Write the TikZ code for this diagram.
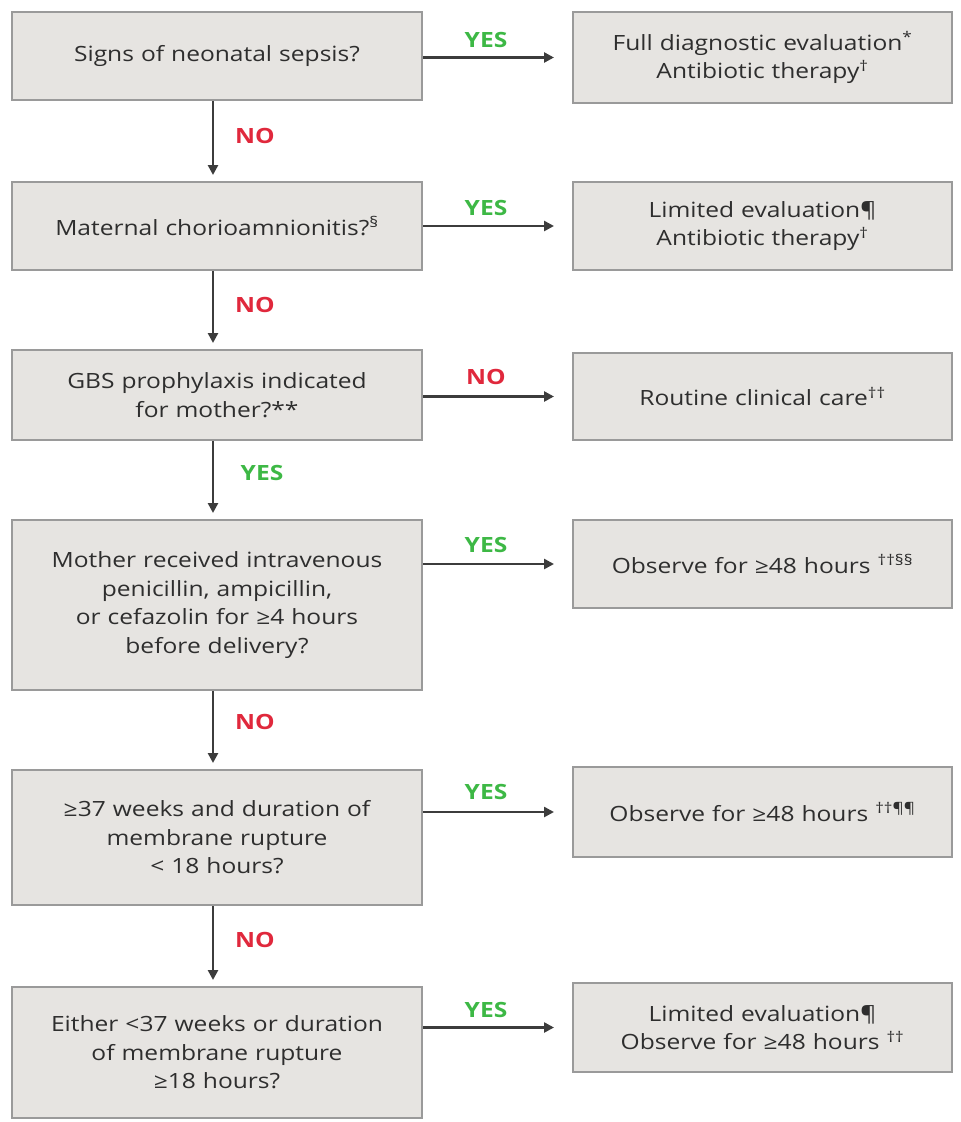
\documentclass[tikz,border=0pt]{standalone}
\usepackage{fontspec}
\setmainfont{Open Sans}[FakeStretch=1.17]
\usetikzlibrary{arrows.meta}
\definecolor{boxfill}{HTML}{E6E4E1}
\definecolor{boxline}{HTML}{9A9A9A}
\definecolor{txt}{HTML}{2E2E2E}
\definecolor{yesg}{HTML}{3DB845}
\definecolor{nored}{HTML}{E0283C}
\definecolor{arr}{HTML}{3C3C3C}
\newcommand{\fn}[1]{\textsuperscript{#1}}
\begin{document}
\begin{tikzpicture}[x=1pt,y=-1pt,
  qbox/.style={draw=boxline, fill=boxfill, line width=2pt, minimum width=410pt,
    text width=400pt, align=center, inner sep=0pt, text=txt,
    font=\fontsize{21}{28.5}\selectfont},
  abox/.style={qbox, minimum width=379pt, text width=370pt},
  conn/.style={draw=arr, line width=2.6pt, -{Triangle[length=10pt,width=10pt]}},
  yeslbl/.style={text=yesg, font=\bfseries\fontsize{21}{21}\selectfont, inner sep=0pt},
  nolbl/.style={text=nored, font=\bfseries\fontsize{21}{21}\selectfont, inner sep=0pt}
]
\useasboundingbox (0,0) rectangle (961,1122);

% question boxes
\node[qbox, minimum height=88pt] (q1) at (217,56) {Signs of neonatal sepsis?};
\node[qbox, minimum height=88pt] (q2) at (217,226) {Maternal chorioamnionitis?\fn{§}};
\node[qbox, minimum height=90pt] (q3) at (217,395) {GBS prophylaxis indicated\\for mother?**};
\node[qbox, minimum height=170pt] (q4) at (217,605) {Mother received intravenous\\penicillin, ampicillin,\\or cefazolin for ≥4 hours\\before delivery?};
\node[qbox, minimum height=135pt] (q5) at (217,837.5) {≥37 weeks and duration of\\membrane rupture\\< 18 hours?};
\node[qbox, minimum height=131pt] (q6) at (217,1052.5) {Either <37 weeks or duration\\of membrane rupture\\≥18 hours?};

% answer boxes
\node[abox, minimum height=91pt] (r1) at (762.5,57.5) {Full diagnostic evaluation\fn{*}\\Antibiotic therapy\fn{†}};
\node[abox, minimum height=88pt] (r2) at (762.5,226) {Limited evaluation¶\\Antibiotic therapy\fn{†}};
\node[abox, minimum height=87pt] (r3) at (762.5,396.5) {Routine clinical care\fn{††}};
\node[abox, minimum height=88pt] (r4) at (762.5,564) {Observe for ≥48 hours \fn{††§§}};
\node[abox, minimum height=90pt] (r5) at (762.5,812) {Observe for ≥48 hours \fn{††¶¶}};
\node[abox, minimum height=89pt] (r6) at (762.5,1027.5) {Limited evaluation¶\\Observe for ≥48 hours \fn{††}};

% horizontal connectors
\foreach \i in {1,...,6}{
  \draw[conn, shorten >=18pt] (q\i.east |- r\i.west) -- (r\i.west);
}
% vertical connectors
\foreach \a/\b in {1/2,2/3,3/4,4/5,5/6}{
  \draw[conn, shorten >=6pt] ([xshift=-4pt]q\a.south) -- ([xshift=-4pt]q\b.north);
}

% labels on horizontal connectors
\node[yeslbl] (l1) at (486,40) {YES};
\node[yeslbl] (l2) at (486,208) {YES};
\node[nolbl]  (l3) at (486,377) {NO};
\node[yeslbl] (l4) at (486,545) {YES};
\node[yeslbl] (l5) at (486,792) {YES};
\node[yeslbl] (l6) at (486,1010) {YES};

% labels on vertical connectors
\node[nolbl]  (v1) at (255,136) {NO};
\node[nolbl]  (v2) at (255,305) {NO};
\node[yeslbl] (v3) at (262,473) {YES};
\node[nolbl]  (v4) at (255,722) {NO};
\node[nolbl]  (v5) at (255,940) {NO};
\end{tikzpicture}
\end{document}
